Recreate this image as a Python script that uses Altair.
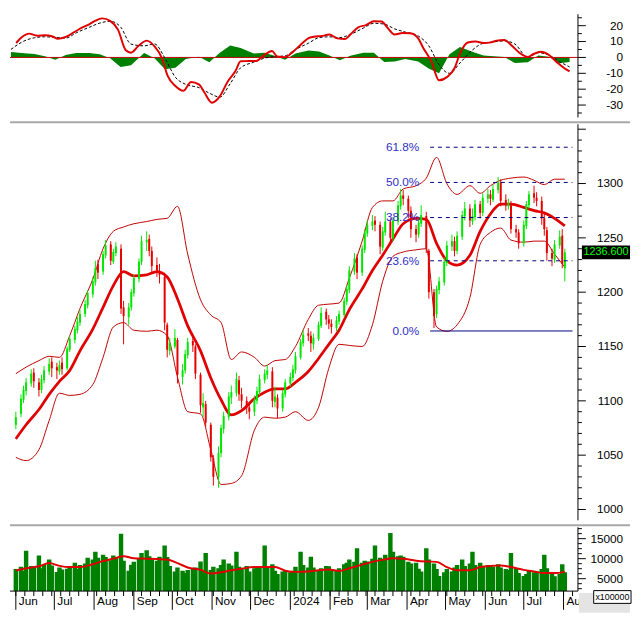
import altair as alt
import pandas as pd

# ---------------- candle data (every 2nd trading day) ----------------
opens = [1078,1088,1101,1109,1116,1126,1117,1110,1119,1127,
         1136,1131,1127,1135,1130,1147,1156,1165,1172,1180,
         1188,1198,1209,1226,1219,1234,1244,1228,1236,1240,
         1186,1177,1186,1199,1212,1228,1246,1249,1238,1225,
         1219,1214,1170,1146,1150,1156,1122,1128,1142,1155,
         1150,1124,1094,1097,1078,1047,1030,1052,1074,1085,
         1103,1107,1119,1106,1100,1094,1090,1100,1108,1119,
         1124,1127,1099,1103,1093,1106,1116,1121,1128,1140,
         1153,1162,1160,1152,1157,1169,1182,1175,1171,1167,
         1173,1179,1191,1202,1219,1232,1218,1239,1254,1261,
         1266,1262,1241,1255,1265,1250,1265,1279,1289,1286,
         1275,1258,1253,1263,1270,1238,1200,1180,1202,1209,
         1227,1242,1247,1238,1251,1270,1277,1265,1269,1281,
         1273,1286,1290,1285,1294,1301,1285,1279,1281,1258,
         1255,1245,1261,1280,1291,1287,1284,1268,1257,1236,
         1230,1243,1252,1222]
highs = [1090,1106,1114,1121,1129,1130,1121,1124,1132,1139,
         1140,1135,1137,1140,1150,1160,1169,1177,1184,1193,
         1202,1214,1229,1230,1238,1248,1247,1240,1246,1244,
         1192,1190,1203,1216,1231,1252,1256,1253,1242,1232,
         1226,1218,1172,1158,1166,1158,1134,1147,1158,1160,
         1152,1126,1107,1100,1080,1050,1058,1078,1090,1108,
         1114,1126,1123,1112,1104,1098,1105,1113,1124,1129,
         1133,1131,1113,1106,1110,1120,1126,1133,1145,1157,
         1165,1167,1164,1162,1173,1186,1185,1179,1175,1178,
         1183,1195,1207,1224,1236,1235,1243,1258,1266,1271,
         1270,1265,1260,1274,1268,1269,1284,1295,1294,1289,
         1279,1262,1268,1280,1274,1240,1203,1206,1214,1232,
         1247,1253,1251,1256,1275,1283,1281,1277,1285,1284,
         1291,1295,1294,1299,1306,1304,1290,1286,1284,1262,
         1258,1266,1284,1293,1298,1292,1288,1272,1260,1240,
         1248,1257,1258,1240]
lows = [1074,1085,1098,1105,1113,1112,1104,1107,1116,1124,
        1122,1120,1124,1124,1128,1145,1153,1162,1169,1177,
        1185,1195,1206,1212,1216,1231,1225,1226,1233,1180,
        1152,1170,1183,1196,1209,1225,1238,1233,1218,1214,
        1208,1165,1140,1142,1148,1116,1115,1125,1139,1145,
        1120,1089,1085,1076,1044,1022,1020,1048,1070,1082,
        1097,1104,1100,1093,1088,1083,1086,1097,1105,1116,
        1120,1094,1094,1084,1090,1103,1113,1118,1125,1138,
        1150,1155,1145,1147,1155,1167,1170,1166,1162,1164,
        1170,1177,1188,1199,1216,1212,1215,1236,1251,1257,
        1256,1235,1238,1252,1244,1247,1262,1276,1280,1268,
        1250,1246,1250,1260,1236,1194,1167,1176,1198,1206,
        1224,1238,1233,1235,1248,1266,1260,1262,1266,1268,
        1270,1282,1280,1283,1291,1279,1275,1276,1254,1250,
        1240,1242,1258,1277,1282,1279,1262,1252,1229,1224,
        1227,1240,1222,1210]
closes = [1085,1102,1110,1117,1125,1118,1110,1120,1128,1134,
          1130,1128,1133,1129,1148,1157,1166,1173,1180,1189,
          1199,1210,1222,1218,1235,1243,1229,1237,1242,1185,
          1178,1186,1200,1213,1228,1247,1248,1238,1224,1220,
          1216,1172,1147,1153,1158,1124,1128,1143,1154,1151,
          1125,1096,1098,1080,1048,1030,1052,1075,1086,1104,
          1108,1120,1106,1100,1094,1090,1101,1109,1120,1125,
          1128,1100,1104,1093,1107,1117,1122,1129,1141,1154,
          1161,1160,1153,1158,1170,1181,1175,1171,1168,1174,
          1180,1192,1203,1220,1231,1218,1240,1255,1262,1265,
          1262,1242,1256,1265,1250,1266,1280,1289,1286,1275,
          1258,1253,1264,1271,1240,1200,1178,1203,1210,1228,
          1243,1247,1238,1252,1271,1277,1266,1270,1281,1273,
          1287,1290,1286,1295,1301,1284,1280,1282,1258,1255,
          1245,1262,1281,1290,1287,1284,1268,1258,1236,1231,
          1244,1251,1226,1236.6]
volumes = [7400,8000,7000,12000,8200,8000,10800,7600,8400,9800,
           8300,6700,7800,7300,7500,8200,9000,7400,8400,8800,
           10200,9800,11700,10200,11000,10400,9600,10800,10200,16200,
           9500,7000,8500,9200,10000,11400,12100,10600,9800,9500,
           10500,13300,10400,8200,6800,7800,7000,6400,7200,7400,
           7800,9300,6800,11400,7200,8000,7600,8400,9800,8800,
           8300,11700,8000,7600,8200,6800,7600,8200,7700,13300,
           8000,8600,7000,6200,6800,7200,6600,7000,8000,11700,
           8400,7800,10500,7800,6900,7600,8200,8100,7400,7000,
           7600,8600,9000,9800,9200,12600,9000,9500,9300,10000,
           13300,10200,9800,11000,16400,11700,10600,10800,10500,9200,
           8800,9000,7500,6800,12600,9800,8800,7400,5700,6600,
           7400,6800,7800,8400,9800,8200,8800,11700,8400,9000,
           8000,8400,8300,8000,8600,7800,7400,7200,11400,7600,
           6400,5700,6200,7000,6600,6800,7400,11000,7600,6600,
           5600,6200,8600,6600]

# ---------------- indicator lines (every 6th trading day) ----------------
ma20 = [1065,1078,1092,1106,1118,1128,1146,1166,1186,1206,
        1219,1215,1216,1219,1214,1194,1169,1146,1121,1101,
        1087,1091,1102,1108,1111,1111,1117,1127,1139,1152,
        1165,1184,1203,1220,1234,1249,1263,1268,1267,1245,
        1229,1225,1234,1256,1272,1281,1281,1278,1275,1273,
        1268,1261]
upper_band = [1125,1131,1137,1141,1140,1160,1185,1212,1240,1256,
              1260,1263,1265,1267,1268,1279,1235,1193,1179,1172,
              1138,1145,1140,1132,1137,1138,1150,1175,1188,1189,
              1190,1213,1247,1278,1284,1284,1295,1298,1305,1324,
              1300,1290,1298,1291,1298,1303,1305,1306,1303,1299,
              1304,1304]
lower_band = [1048,1045,1055,1082,1107,1105,1106,1115,1140,1168,
              1172,1165,1164,1165,1160,1122,1090,1088,1055,1023,
              1024,1031,1073,1085,1084,1085,1090,1082,1094,1130,
              1152,1151,1150,1170,1210,1233,1237,1239,1240,1168,
              1164,1170,1195,1244,1255,1259,1248,1246,1247,1247,
              1235,1223]
signal_line = [5,9.5,12.4,13,12.6,12.2,15.5,19,21.6,22.8,
               19.2,8.4,7.3,8.5,-0.5,-12.5,-17,-19,-22.5,-25,
               -16.5,-6.5,-3,-0.5,0.5,1,5,9,12.5,13,
               12.5,14.5,18.5,21.5,21,18,16,13.5,7.5,-4.6,
               -10,-3.5,5,9,9.8,10.4,8.5,0,3,1.5,
               -2.5,-6]
macd_hist = [3.5,2.8,2.2,0.8,-1.5,1.5,2.8,2.8,2,-0.5,
             -6,-5,2.8,-0.5,-7.5,-6.5,-1,0.5,-3,3,
             7.5,6,2.5,3,1,-1.5,2.5,4.3,3.7,1.2,
             -1.8,1,3,3,-2.8,-2.5,-1,-2.5,-7,-10,
             2,6.5,3.5,1.2,0.8,0.3,-3.5,-3,1.2,0.5,
             -3.7,-2.8]
vol_ma = [7000,7600,8100,8900,8200,7900,7900,8600,9400,10000,
          10600,10100,10000,9900,9800,8900,7800,7200,6300,6600,
          7100,7500,7900,7900,7900,7000,6700,6800,7100,7300,
          6900,7600,8500,9200,9700,10100,10000,9500,9300,9200,
          7900,7100,7100,7900,8200,8300,7900,7200,6800,6400,
          6400,6700]

# MACD line (every 4th trading day)
macd_line = [9.1,12.5,15,13.7,14,13.2,11.7,12.9,15.7,18.6,
             20.9,22.8,24.6,23,17.5,4.5,3,7.5,10.6,7,
             -1,-11.5,-18,-21,-15.5,-17,-21.8,-28.5,-24.5,-15.3,
             -8.6,-2.4,-2.3,-2.2,1.5,4,0.6,0.2,3.5,8,
             12.2,13,13.5,14.4,12,11.6,14.4,19,20.4,22.8,
             22.7,19.2,14.5,15.4,15.2,12,5.8,-2.2,-14.4,-12.4,
             -6.5,2.4,9.4,10,9.1,9.5,10.6,11,7.2,2.6,
             0.3,2,3.6,1.7,-2.8,-6.8,-8.8]

# Fibonacci retracement levels
fib_labels = ["0.0%", "23.6%", "38.2%", "50.0%", "61.8%"]
fib_levels = [1164.3, 1228.9, 1268.7, 1301.0, 1333.4]
fib_start = "2024-04-19"
fib_end = "2024-08-08"
last_label = "1236.600"
last_close = 1236.6

# axis ticks and labels
price_major = [1000, 1050, 1100, 1150, 1200, 1250, 1300, 1350]
price_labels = ["1000", "1050", "1100", "1150", "1200", "1250", "1300", ""]
price_minor = [v for v in range(1000, 1360, 10) if v % 50]
macd_major = [-30, -20, -10, 0, 10, 20]
macd_labels = ["-30", "-20", "-10", "0", "10", "20"]
macd_minor = [25, 15, 5, -5, -15, -25, -35]
vol_major = [5000, 10000, 15000]
vol_labels = ["5000", "10000", "15000"]
vol_minor = [2500, 3750, 6250, 7500, 8750, 11250, 12500, 13750, 16250, 17500]
month_starts = ["2023-06-01", "2023-07-01", "2023-08-01", "2023-09-01", "2023-10-01",
                "2023-11-01", "2023-12-01", "2024-01-01", "2024-02-01", "2024-03-01",
                "2024-04-01", "2024-05-01", "2024-06-01", "2024-07-01", "2024-08-01"]
month_labels = ["Jun", "Jul", "Aug", "Sep", "Oct", "Nov", "Dec", "2024",
                "Feb", "Mar", "Apr", "May", "Jun", "Jul", "Aug"]

# ---------------- tables ----------------
bdays = pd.bdate_range("2023-06-01", "2024-08-02")
dates = bdays[::2]
line_dates = dates[::3]
macd_dates = dates[1::2]

candles = pd.DataFrame({"date": dates, "open": opens, "high": highs,
                        "low": lows, "close": closes, "volume": volumes})
candles["dir"] = ["up" if c >= o else "down" for o, c in zip(opens, closes)]
lines = pd.DataFrame({"date": line_dates, "ma": ma20, "upper": upper_band,
                      "lower": lower_band, "signal": signal_line,
                      "hist": macd_hist, "vma": vol_ma})
lines["zero"] = 0.0
macd_df = pd.DataFrame({"date": macd_dates, "macd": macd_line})
fib = pd.DataFrame({"label": fib_labels, "level": fib_levels,
                    "start": [fib_start] * 5, "end": [fib_end] * 5})
fib_dash = fib[fib["label"] != "0.0%"].reset_index(drop=True)
fib_solid = fib[fib["label"] == "0.0%"].reset_index(drop=True)
last_df = pd.DataFrame({"v": [last_close], "t": [last_label]})
one = pd.DataFrame({"a": [0.0]})
months = pd.DataFrame({"d": month_starts, "t": month_labels})
week_ticks = pd.DataFrame({"d": pd.date_range("2023-06-01", "2024-08-08", freq="W-THU")})

W = 578
H_MACD, H_PRICE, H_VOL = 105, 403, 65
UP, DOWN = "#00e600", "#e60000"
FONT = "Liberation Sans"

xs = alt.Scale(domain=[alt.DateTime(year=2023, month=5, date=31, hours=6),
                       alt.DateTime(year=2024, month=8, date=8, hours=10)])
ys_price = alt.Scale(domain=[990, 1354.5], nice=False, zero=False)
ys_macd = alt.Scale(domain=[-37.8, 27.2], nice=False, zero=False)
ys_vol = alt.Scale(domain=[1900, 17850], nice=False, zero=False)


def right_axis(scale, H, major, labels, minor):
    maj = pd.DataFrame({"v": major, "t": labels})
    mnr = pd.DataFrame({"v": minor})
    dom = alt.Chart(one).mark_rule(color="black", strokeWidth=1).encode(
        x=alt.value(W), y=alt.value(0), y2=alt.value(H))
    t1 = alt.Chart(maj).mark_rule(color="black", strokeWidth=1).encode(
        y=alt.Y("v:Q", scale=scale, axis=None), x=alt.value(W), x2=alt.value(W + 8))
    t2 = alt.Chart(mnr).mark_rule(color="black", strokeWidth=1).encode(
        y=alt.Y("v:Q", scale=scale, axis=None), x=alt.value(W), x2=alt.value(W + 4))
    lab = alt.Chart(maj).mark_text(align="right", baseline="middle", fontSize=12,
                                   font=FONT, color="black").encode(
        y=alt.Y("v:Q", scale=scale, axis=None), x=alt.value(W + 46), text="t:N")
    return [dom, t1, t2, lab]


def sep():
    return alt.Chart(one).mark_rule(color="#a8a8a8", strokeWidth=2).encode(
        y=alt.value(-2), x=alt.value(0), x2=alt.value(W + 53))


xnone = alt.X("date:T", scale=xs, axis=None)

# ---------------- MACD panel ----------------
hist = alt.Chart(lines).mark_area(color="#008000").encode(
    x=xnone, y=alt.Y("hist:Q", scale=ys_macd, axis=None), y2="zero:Q")
zero = alt.Chart(one).mark_rule(color="#c00000", strokeWidth=1).encode(
    y=alt.Y("a:Q", scale=ys_macd, axis=None), x=alt.value(0), x2=alt.value(W))
sig = alt.Chart(lines).mark_line(color="black", strokeWidth=1, strokeDash=[3, 2],
                                 interpolate="monotone").encode(
    x=xnone, y=alt.Y("signal:Q", scale=ys_macd, axis=None))
macd = alt.Chart(macd_df).mark_line(color="#e00000", strokeWidth=2,
                                    interpolate="monotone").encode(
    x=xnone, y=alt.Y("macd:Q", scale=ys_macd, axis=None))
macd_panel = alt.layer(hist, zero, sig, macd,
                       *right_axis(ys_macd, H_MACD, macd_major, macd_labels, macd_minor)
                       ).properties(width=W, height=H_MACD)

# ---------------- price panel ----------------
up_l = alt.Chart(lines).mark_line(color="#c00000", strokeWidth=1, interpolate="monotone").encode(
    x=xnone, y=alt.Y("upper:Q", scale=ys_price, axis=None))
lo_l = alt.Chart(lines).mark_line(color="#c00000", strokeWidth=1, interpolate="monotone").encode(
    x=xnone, y=alt.Y("lower:Q", scale=ys_price, axis=None))
ma_l = alt.Chart(lines).mark_line(color="#e00000", strokeWidth=2.8, interpolate="monotone").encode(
    x=xnone, y=alt.Y("ma:Q", scale=ys_price, axis=None))
cscale = alt.Scale(domain=["up", "down"], range=[UP, DOWN])
wick = alt.Chart(candles).mark_rule(strokeWidth=1).encode(
    x=xnone, y=alt.Y("low:Q", scale=ys_price, axis=None), y2="high:Q",
    color=alt.Color("dir:N", scale=cscale, legend=None))
body = alt.Chart(candles).mark_bar(size=2).encode(
    x=xnone, y=alt.Y("open:Q", scale=ys_price, axis=None), y2="close:Q",
    color=alt.Color("dir:N", scale=cscale, legend=None))
fx = alt.X("start:T", scale=xs, axis=None)
fdash = alt.Chart(fib_dash).mark_rule(color="#000080", strokeWidth=1, strokeDash=[4, 4]).encode(
    x=fx, x2="end:T", y=alt.Y("level:Q", scale=ys_price, axis=None))
fsolid = alt.Chart(fib_solid).mark_rule(color="#000080", strokeWidth=1).encode(
    x=fx, x2="end:T", y=alt.Y("level:Q", scale=ys_price, axis=None))
ftext = alt.Chart(fib).mark_text(align="right", baseline="middle", dx=-11, color="#3030c8",
                                 fontSize=12, font=FONT).encode(
    x=fx, y=alt.Y("level:Q", scale=ys_price, axis=None), text="label:N")
box_path = "M-1,-0.2857L1,-0.2857L1,0.2857L-1,0.2857Z"
lbox = alt.Chart(last_df).mark_point(shape=box_path, size=2401, filled=True, color="black",
                                     opacity=1).encode(
    x=alt.value(W + 28.5), y=alt.Y("v:Q", scale=ys_price, axis=None))
ltext = alt.Chart(last_df).mark_text(color="#00ff00", fontSize=11, font=FONT,
                                     align="center", baseline="middle").encode(
    x=alt.value(W + 28.5), y=alt.Y("v:Q", scale=ys_price, axis=None), text="t:N")
price_panel = alt.layer(up_l, lo_l, ma_l, wick, body, fdash, fsolid, ftext,
                        *right_axis(ys_price, H_PRICE, price_major, price_labels, price_minor),
                        lbox, ltext, sep()).properties(width=W, height=H_PRICE)

# ---------------- volume panel ----------------
vbars = alt.Chart(candles).mark_bar(size=4.5, color="#008000", clip=True).encode(
    x=xnone, y=alt.Y("volume:Q", scale=ys_vol, axis=None))
vline = alt.Chart(lines).mark_line(color="#e00000", strokeWidth=2, interpolate="monotone").encode(
    x=xnone, y=alt.Y("vma:Q", scale=ys_vol, axis=None))
xdom = alt.Chart(one).mark_rule(color="black", strokeWidth=1).encode(
    y=alt.value(H_VOL), x=alt.value(0), x2=alt.value(W))
mtick = alt.Chart(months).mark_rule(color="black", strokeWidth=1).encode(
    x=alt.X("d:T", scale=xs, axis=None), y=alt.value(H_VOL), y2=alt.value(H_VOL + 19))
mlab = alt.Chart(months).mark_text(align="left", baseline="top", dx=3, fontSize=12,
                                   font=FONT, color="black").encode(
    x=alt.X("d:T", scale=xs, axis=None), y=alt.value(H_VOL + 5), text="t:N")
wk = alt.Chart(week_ticks).mark_rule(color="black").encode(
    x=alt.X("d:T", scale=xs, axis=None), y=alt.value(H_VOL), y2=alt.value(H_VOL + 5))
grey = alt.Chart(one).mark_rect(color="#e4e4e4").encode(
    x=alt.value(W + 1), x2=alt.value(W + 53), y=alt.value(H_VOL + 2), y2=alt.value(H_VOL + 22))
BOX_X, BOX_Y = W + 35, H_VOL + 6
xbox = alt.Chart(one).mark_point(shape="M-1,-0.342L1,-0.342L1,0.342L-1,0.342Z", size=1444,
                                 filled=True, color="white", opacity=1).encode(
    x=alt.value(BOX_X), y=alt.value(BOX_Y))
xbox2 = alt.Chart(one).mark_point(shape="M-1,-0.342L1,-0.342L1,0.342L-1,0.342Z", size=1444,
                                  filled=False, color="black", strokeWidth=1, opacity=1).encode(
    x=alt.value(BOX_X), y=alt.value(BOX_Y))
xtext = alt.Chart(one).mark_text(text="x100000", fontSize=9, font=FONT, color="black",
                                 align="center", baseline="middle").encode(
    x=alt.value(BOX_X), y=alt.value(BOX_Y))
vol_panel = alt.layer(vbars, vline,
                      *right_axis(ys_vol, H_VOL, vol_major, vol_labels, vol_minor),
                      xdom, mtick, wk, mlab, grey, xbox, xbox2, xtext,
                      sep()).properties(width=W, height=H_VOL)

chart = alt.vconcat(macd_panel, price_panel, vol_panel, spacing=3).properties(
    padding=0
).configure(font=FONT).configure_view(stroke=None)

chart.save("out.html", embed_options={"renderer": "svg", "actions": False})
